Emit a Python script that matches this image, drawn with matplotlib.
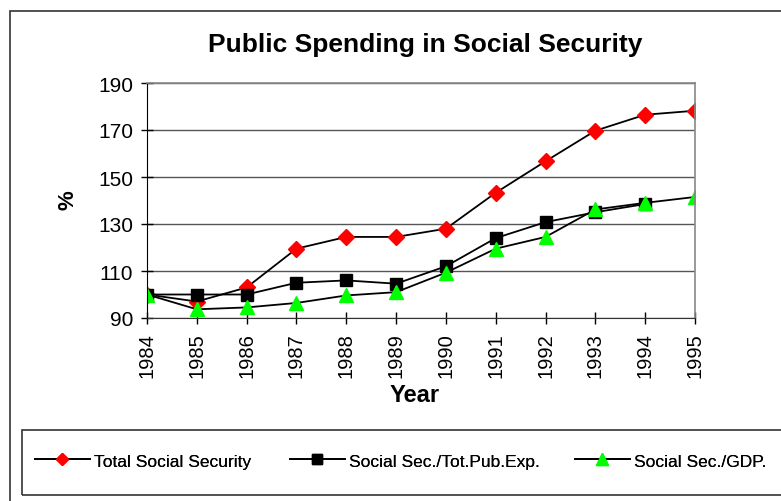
import matplotlib
matplotlib.use("Agg")
import matplotlib.pyplot as plt
from matplotlib.patches import Rectangle
from matplotlib.lines import Line2D
import numpy as np

years = [1984, 1985, 1986, 1987, 1988, 1989, 1990, 1991, 1992, 1993, 1994, 1995]
total_ss = [100, 97, 103, 119.5, 124.5, 124.5, 128, 143.3, 156.7, 169.7, 176.5, 178.2]
ss_pubexp = [100, 100, 100, 105, 106, 104.6, 112, 124, 130.8, 135, 138.5, np.nan]
ss_gdp = [100, 93.7, 94.5, 96.4, 99.6, 101, 109.3, 119.5, 124.5, 136.2, 139, 141.5]
labels = ["Total Social Security", "Social Sec./Tot.Pub.Exp.", "Social Sec./GDP."]
yticks = [90, 110, 130, 150, 170, 190]

plt.rcParams['font.family'] = ['Liberation Sans', 'DejaVu Sans']

W, H = 781, 502
fig = plt.figure(figsize=(W / 100, H / 100), dpi=100)

def fx(px):
    return px / W

def fy(py):
    return 1 - py / H

# outer chart border
fig.patches.append(Rectangle((fx(10), fy(900)), fx(900) - fx(10), fy(12) - fy(900),
                             transform=fig.transFigure, fill=False, edgecolor='#333333',
                             linewidth=1.2))
# legend box
fig.patches.append(Rectangle((fx(22), fy(496)), fx(900) - fx(22), fy(431) - fy(496),
                             transform=fig.transFigure, fill=False, edgecolor='#333333',
                             linewidth=1.2))

ax = fig.add_axes([fx(147), fy(319), fx(695) - fx(147), (319 - 84) / H])

styles = [dict(marker='D', ms=8, c='#ff0000'),
          dict(marker='s', ms=8.5, c='black'),
          dict(marker='^', ms=9.5, c='#00ff00')]
series = [total_ss, ss_pubexp, ss_gdp]
for vals, st, lab in zip(series, styles, labels):
    ax.plot(years, vals, color='black', lw=1.3, marker=st['marker'], ms=st['ms'],
            mfc=st['c'], mec=st['c'], label=lab)

ax.set_xlim(1984, 1995)
ax.set_ylim(90, 190)
ax.set_yticks(yticks)
ax.set_xticks(years)
ax.set_xticklabels([str(y) for y in years], rotation=90)
ax.tick_params(axis='both', direction='inout', length=8, width=1, labelsize=14.5, colors='black')
ax.tick_params(axis='y', labelsize=15, pad=6)
ax.tick_params(axis='x', pad=6)
ax.grid(axis='y', color='#555555', lw=1)
ax.set_axisbelow(True)
for s in ['top', 'right']:
    ax.spines[s].set_color('#888888')
    ax.spines[s].set_linewidth(1.2)
ax.spines['left'].set_color('black')
ax.spines['bottom'].set_color('#333333')

fig.text(fx(425), fy(45), "Public Spending in Social Security", ha='center', va='center',
         fontsize=19, fontweight='bold')
fig.text(fx(68), fy(200), "%", ha='center', va='center', rotation=90,
         fontsize=16, fontweight='bold')
fig.text(fx(415), fy(396), "Year", ha='center', va='center', fontsize=17, fontweight='bold')

# legend: one entry per anchored legend to match positions
leg_x = [35, 290, 575]
leg_ms = [6, 6.5, 8]
for i, (st, lab) in enumerate(zip(styles, labels)):
    h = Line2D([], [], color='black', lw=1.3, marker=st['marker'], ms=leg_ms[i],
               mfc=st['c'], mec=st['c'])
    lg = fig.legend(handles=[h], labels=[lab], loc='center left',
                    bbox_to_anchor=(fx(leg_x[i]), fy(462)), frameon=False,
                    prop={'size': 12.5}, handlelength=3.15, handletextpad=0.25,
                    borderpad=0, borderaxespad=0)
    fig.add_artist(lg)

fig.savefig("out.png", dpi=100)
